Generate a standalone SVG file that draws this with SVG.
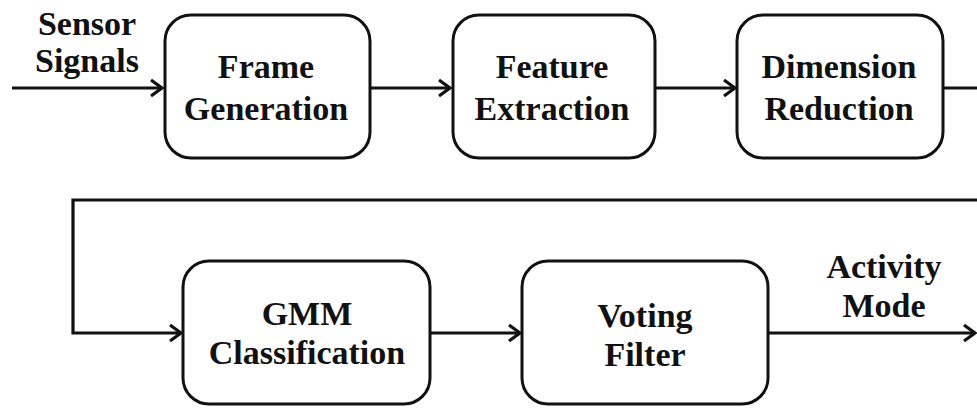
<svg xmlns="http://www.w3.org/2000/svg" width="977" height="409" viewBox="0 0 977 409" font-family="'Liberation Serif', 'DejaVu Serif', serif">
<style>
.box{fill:#fff;stroke:#111;stroke-width:3}
.ln{fill:none;stroke:#111;stroke-width:3.2}
text{font-weight:bold;font-size:34px;fill:#111;text-anchor:middle}
</style>
<defs>
<marker id="ah" viewBox="-14 -10 16 20" markerWidth="16" markerHeight="20" refX="0" refY="0" orient="auto" markerUnits="userSpaceOnUse">
<path d="M-11,-8 L0,0 L-11,8" fill="none" stroke="#111" stroke-width="3.2" stroke-linejoin="miter"/>
</marker>
</defs>
<g id="connectors">
<line class="ln" x1="12" y1="88" x2="162" y2="88" marker-end="url(#ah)"/>
<line class="ln" x1="370" y1="88" x2="450" y2="88" marker-end="url(#ah)"/>
<line class="ln" x1="655" y1="88" x2="735" y2="88" marker-end="url(#ah)"/>
<line class="ln" x1="943" y1="88" x2="977" y2="88"/>
<polyline class="ln" points="977,200 73,200 73,333 181,333" marker-end="url(#ah)"/>
<line class="ln" x1="430" y1="333" x2="520" y2="333" marker-end="url(#ah)"/>
<line class="ln" x1="768" y1="333" x2="975" y2="333" marker-end="url(#ah)"/>
<text x="87" y="35" font-family="Liberation Serif, serif">Sensor</text>
<text x="87" y="72" font-family="Liberation Serif, serif">Signals</text>
<text x="884" y="278" font-family="Liberation Serif, serif">Activity</text>
<text x="884" y="317" font-family="Liberation Serif, serif">Mode</text>
</g>
<g id="frame-generation" font-family="Liberation Serif, serif">
<rect class="box" x="165" y="15" width="205" height="143" rx="26"/>
<text x="266" y="78">Frame</text>
<text x="266" y="120">Generation</text>
</g>
<g id="feature-extraction" font-family="Liberation Serif, serif">
<rect class="box" x="453" y="15" width="202" height="143" rx="26"/>
<text x="552" y="78">Feature</text>
<text x="552" y="120">Extraction</text>
</g>
<g id="dimension-reduction" font-family="Liberation Serif, serif">
<rect class="box" x="737" y="15" width="206" height="143" rx="26"/>
<text x="839" y="78">Dimension</text>
<text x="839" y="120">Reduction</text>
</g>
<g id="gmm-classification" font-family="Liberation Serif, serif">
<rect class="box" x="183" y="261" width="247" height="143" rx="26"/>
<text x="307" y="325">GMM</text>
<text x="307" y="364">Classification</text>
</g>
<g id="voting-filter" font-family="Liberation Serif, serif">
<rect class="box" x="522" y="261" width="246" height="143" rx="26"/>
<text x="645" y="327">Voting</text>
<text x="645" y="366">Filter</text>
</g>
</svg>
